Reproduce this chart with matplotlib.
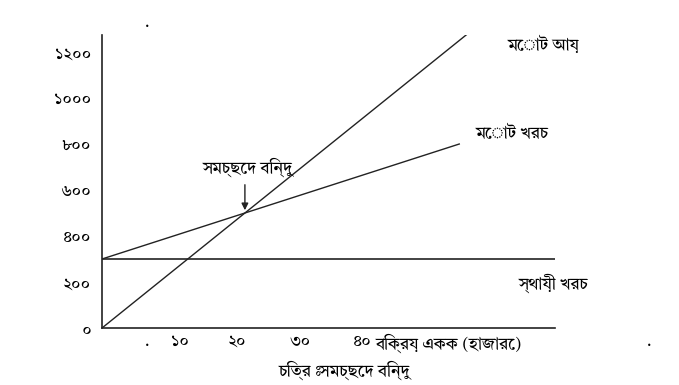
import matplotlib
matplotlib.use("Agg")
import matplotlib.pyplot as plt

plt.rcParams['font.family'] = ['Tiro Bangla', 'Noto Sans Bengali', 'DejaVu Sans']

# data: units sold (thousands) and money values
rev_x = [0, 51]
rev_y = [0, 1275]
tc_x = [0, 50]
tc_y = [300, 800]
fc_x = [0, 63.4]
fc_y = [300, 300]
bep = (20, 500)

y_ticks = [0, 200, 400, 600, 800, 1000, 1200]
y_labels = ["০", "২০০", "৪০০", "৬০০", "৮০০", "১০০০", "১২০০"]
x_labels = ["১০", "২০", "৩০", "৪০"]
x_label_pos = [10.9, 18.9, 27.7, 36.4]

fig = plt.figure(figsize=(6.79, 3.85), dpi=100)
ax = fig.add_axes([102 / 679, 57 / 385, 453 / 679, 293 / 385])

ax.plot(rev_x, rev_y, color="#222222", lw=1)
ax.plot(tc_x, tc_y, color="#222222", lw=1)
ax.plot(fc_x, fc_y, color="#222222", lw=1.2)

ax.set_xlim(0, 63.4)
ax.set_ylim(0, 1274)
for s in ["top", "right"]:
    ax.spines[s].set_visible(False)
for s in ["left", "bottom"]:
    ax.spines[s].set_linewidth(1.2)
    ax.spines[s].set_color("#222222")

ax.set_yticks(y_ticks)
ax.set_yticklabels(y_labels, fontsize=12)
ax.tick_params(axis="y", length=0, pad=8)
ax.set_xticks([])

for lab, xp in zip(x_labels, x_label_pos):
    ax.text(xp, -25, lab, fontsize=12, ha="center", va="top")
ax.text(38.3, -25, "বিক্রয় একক (হাজারে)", fontsize=12, ha="left", va="top")
ax.text(6.3, -25, ".", fontsize=11, ha="center", va="top")
ax.text(76.6, -25, ".", fontsize=11, ha="center", va="top", clip_on=False)
ax.text(6.3, 1290, ".", fontsize=11, ha="center", va="bottom", clip_on=False)

ax.text(56.8, 1230, "মোট আয়", fontsize=12, ha="left", va="center", clip_on=False)
ax.text(52.3, 845, "মোট খরচ", fontsize=12, ha="left", va="center", clip_on=False)
ax.text(58.3, 195, "স্থায়ী খরচ", fontsize=12, ha="left", va="center", clip_on=False)
ax.text(bep[0] + 0.4, 700, "সমচ্ছেদ বিন্দু", fontsize=12, ha="center", va="center")
ax.annotate("", xy=bep, xytext=(bep[0], 635),
            arrowprops=dict(arrowstyle="-|>", color="#222222", lw=1, mutation_scale=10))

fig.text(345 / 679, 1 - 370 / 385, "চিত্র ঃ সমচ্ছেদ বিন্দু", fontsize=12,
         ha="center", va="center")

fig.savefig("out.png", dpi=100)
